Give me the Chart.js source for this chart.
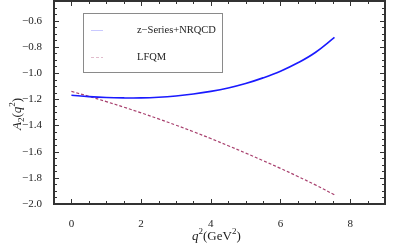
<!DOCTYPE html>
<html>
<head>
<meta charset="utf-8">
<script src="https://cdn.jsdelivr.net/npm/chart.js@4.4.1/dist/chart.umd.min.js"></script>
<style>
  html, body { margin: 0; padding: 0; background: #fff; }
  #wrap { width: 399px; height: 248px; }
</style>
</head>
<body>
<div id="wrap"><canvas id="formFactorChart" width="399" height="248"></canvas></div>
<script>
// q^2 values (GeV^2)
const q2Values = [0, 0.5, 1, 1.5, 2, 2.5, 3, 3.5, 4, 4.5, 5, 5.5, 6, 6.5, 7, 7.55];
// z-Series+NRQCD
const zSeriesValues = [-1.170, -1.180, -1.187, -1.190, -1.190, -1.185, -1.175, -1.160, -1.140, -1.114, -1.080, -1.037, -0.986, -0.922, -0.843, -0.728];
// LFQM
const lfqmValues = [-1.140, -1.178, -1.218, -1.260, -1.304, -1.350, -1.398, -1.448, -1.500, -1.555, -1.611, -1.669, -1.728, -1.790, -1.854, -1.930];

const xTicks = [0, 2, 4, 6, 8];
const yTicks = [-2.0, -1.8, -1.6, -1.4, -1.2, -1.0, -0.8, -0.6];
const legendLabels = ["z\u2212Series+NRQCD", "LFQM"];

const serif = "'Liberation Serif', 'DejaVu Serif', serif";
const blue = "#1a1aff";
const purple = "#a8406e";

function toPoints(xs, ys) {
    return xs.map((x, i) => ({ x: x, y: ys[i] }));
}

// frame with inward ticks on all four sides, like the original plot
const framePlugin = {
    id: "frame",
    afterDraw(chart) {
        const c = chart.ctx;
        const a = chart.chartArea;
        const xs = chart.scales.x;
        const ys = chart.scales.y;
        c.save();
        c.strokeStyle = "#333";
        c.lineWidth = 1;
        // minor + major ticks
        for (let v = -0.5; v <= 9.001; v += 0.5) {
            const px = Math.round(xs.getPixelForValue(v)) + 0.5;
            const major = Math.abs(v / 2 - Math.round(v / 2)) < 1e-6;
            const len = major ? 5 : 3;
            c.beginPath();
            c.moveTo(px, a.bottom); c.lineTo(px, a.bottom - len);
            c.moveTo(px, a.top); c.lineTo(px, a.top + len);
            c.stroke();
        }
        for (let v = -2.0; v <= -0.45; v += 0.05) {
            const py = Math.round(ys.getPixelForValue(v)) + 0.5;
            const major = Math.abs(v / 0.2 - Math.round(v / 0.2)) < 1e-6;
            const len = major ? 5 : 3;
            c.beginPath();
            c.moveTo(a.left, py); c.lineTo(a.left + len, py);
            c.moveTo(a.right, py); c.lineTo(a.right - len, py);
            c.stroke();
        }
        c.lineWidth = 2;
        c.strokeRect(a.left, a.top, a.right - a.left, a.bottom - a.top);

        // legend box
        const lx = 83, ly = 13, lw = 139, lh = 59;
        c.lineWidth = 1;
        c.strokeStyle = "#8a8a8a";
        c.strokeRect(lx + 0.5, ly + 0.5, lw, lh);
        c.strokeStyle = "rgba(40,40,255,0.25)";
        c.beginPath(); c.moveTo(91, 30.5); c.lineTo(103, 30.5); c.stroke();
        c.strokeStyle = "rgba(168,64,110,0.35)";
        c.setLineDash([3, 2]);
        c.beginPath(); c.moveTo(91, 57.5); c.lineTo(103, 57.5); c.stroke();
        c.setLineDash([]);
        c.fillStyle = "#222";
        c.font = "10.5px " + serif;
        c.textBaseline = "middle";
        c.textAlign = "left";
        c.fillText(legendLabels[0], 137, 30);
        c.fillText(legendLabels[1], 137, 57);

        // axis titles
        c.textBaseline = "alphabetic";
        let x = 192, y = 240;
        c.font = "italic 13px " + serif;
        c.fillText("q", x, y); x += c.measureText("q").width;
        c.font = "9px " + serif;
        c.fillText("2", x, y - 6); x += c.measureText("2").width;
        c.font = "13px " + serif;
        c.fillText("(GeV", x, y); x += c.measureText("(GeV").width;
        c.font = "9px " + serif;
        c.fillText("2", x, y - 6); x += c.measureText("2").width;
        c.font = "13px " + serif;
        c.fillText(")", x, y);

        c.translate(21, 130);
        c.rotate(-Math.PI / 2);
        x = 0; y = 0;
        c.font = "italic 13px " + serif;
        c.fillText("A", x, y); x += c.measureText("A").width;
        c.font = "9px " + serif;
        c.fillText("2", x, y + 3); x += c.measureText("2").width;
        c.font = "13px " + serif;
        c.fillText("(", x, y); x += c.measureText("(").width;
        c.font = "italic 13px " + serif;
        c.fillText("q", x, y); x += c.measureText("q").width;
        c.font = "9px " + serif;
        c.fillText("2", x, y - 6); x += c.measureText("2").width;
        c.font = "13px " + serif;
        c.fillText(")", x, y);
        c.restore();
    }
};

const ctx = document.getElementById("formFactorChart").getContext("2d");

new Chart(ctx, {
    type: "line",
    data: {
        datasets: [
            {
                label: legendLabels[0],
                data: toPoints(q2Values, zSeriesValues),
                borderColor: blue,
                borderWidth: 1.6,
                pointRadius: 0,
                tension: 0.4,
                fill: false
            },
            {
                label: legendLabels[1],
                data: toPoints(q2Values, lfqmValues),
                borderColor: purple,
                borderWidth: 1.2,
                borderDash: [3, 2],
                pointRadius: 0,
                tension: 0.4,
                fill: false
            }
        ]
    },
    options: {
        responsive: false,
        animation: false,
        layout: { padding: { left: 0, right: 14, top: 1, bottom: 0 } },
        plugins: {
            legend: { display: false },
            tooltip: { enabled: false }
        },
        scales: {
            x: {
                type: "linear",
                min: -0.5,
                max: 9,
                afterBuildTicks: function (scale) {
                    scale.ticks = xTicks.map(v => ({ value: v }));
                },
                afterFit: function (scale) {
                    scale.height = 44;
                    scale.paddingLeft = 0;
                    scale.paddingRight = 0;
                },
                grid: { display: false },
                border: { display: false },
                ticks: {
                    padding: 6,
                    color: "#222",
                    font: { family: serif, size: 11 },
                    maxRotation: 0,
                    callback: v => String(v)
                }
            },
            y: {
                type: "linear",
                min: -2.0,
                max: -0.45,
                afterBuildTicks: function (scale) {
                    scale.ticks = yTicks.map(v => ({ value: v }));
                },
                afterFit: function (scale) {
                    scale.width = 54;
                    scale.paddingTop = 0;
                    scale.paddingBottom = 0;
                },
                grid: { display: false },
                border: { display: false },
                ticks: {
                    padding: 4,
                    color: "#222",
                    font: { family: serif, size: 11 },
                    callback: v => "\u2212" + Math.abs(v).toFixed(1)
                }
            }
        }
    },
    plugins: [framePlugin]
});
</script>
</body>
</html>
